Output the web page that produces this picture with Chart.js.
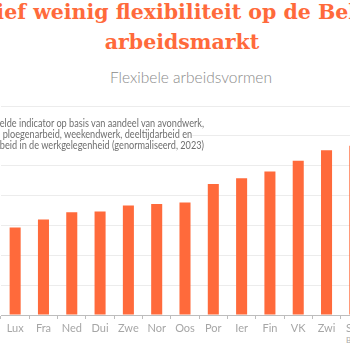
<!DOCTYPE html>
<html><head><meta charset="utf-8">
<script src="https://cdn.jsdelivr.net/npm/chart.js@4/dist/chart.umd.min.js"></script>
<style>
html,body{margin:0;padding:0;width:350px;height:350px;overflow:hidden;background:#fff;position:relative}
.t{position:absolute;white-space:nowrap}
#t1,#t2{font-family:"DejaVu Serif",serif;font-weight:bold;font-size:20.5px;color:#FF6A3B;transform:translateX(-50%)}
#sub{font-family:Lato,sans-serif;font-weight:300;font-size:15.5px;color:#8a8a8a;transform:translateX(-50%)}
#desc{position:absolute;left:0;top:118px;z-index:2}
.d{display:block;position:absolute;white-space:nowrap;font-family:Lato,sans-serif;font-size:10.5px;line-height:11px;color:#6f6f6f;background:#fff;transform-origin:0 0}
#src{font-family:Lato,sans-serif;font-size:8px;color:#aaa}
#wrap{position:absolute;left:-10px;top:0;width:400px;height:350px;z-index:1}
</style></head>
<body>
<div class="t" id="t1" style="left:183px;top:0px">Relatief weinig flexibiliteit op de Belgische</div>
<div class="t" id="t2" style="left:182px;top:30px">arbeidsmarkt</div>
<div class="t" id="sub" style="left:191px;top:68px">Flexibele arbeidsvormen</div>
<div id="desc">
<span class="d" id="d1">Samengestelde indicator op basis van aandeel van avondwerk,</span>
<span class="d" id="d2">nachtwerk, ploegenarbeid, weekendwerk, deeltijdarbeid en</span>
<span class="d" id="d3">tijdelijke arbeid in de werkgelegenheid (genormaliseerd, 2023)</span>
</div>
<div class="t" id="src" style="left:346px;top:335px">Bron</div>
<div id="wrap"><canvas id="c"></canvas></div>
<script>
const categories = ["Lux","Fra","Ned","Dui","Zwe","Nor","Oos","Por","Ier","Fin","VK","Zwi","Spa"];
const values = [29.3,32.0,34.4,34.7,36.7,37.2,37.7,43.9,45.8,48.1,51.7,55.2,56.7];
const yTicks = [0,10,20,30,40,50,60,70];

// fit the note text: "elde" starts at x≈0, first line ends at x≈205
(function(){
  const cv = document.createElement('canvas').getContext('2d');
  cv.font = '10.5px Lato';
  const full = cv.measureText(document.getElementById('d1').textContent).width;
  const pre = cv.measureText('Samengest').width;
  const s = 205 / (full - pre);
  const left = -pre * s;
  ['d1','d2','d3'].forEach((id,i) => {
    const el = document.getElementById(id);
    el.style.left = left + 'px';
    el.style.top = (i*11) + 'px';
    el.style.transform = 'scaleX(' + s + ')';
  });
})();

new Chart(document.getElementById('c'), {
  type: 'bar',
  data: { labels: categories, datasets: [{ data: values, backgroundColor: '#FF6A3B', borderWidth: 0, barPercentage: 0.39, categoryPercentage: 1 }] },
  options: {
    responsive: true, maintainAspectRatio: false, animation: false,
    layout: { padding: { left: 11, right: 21, top: 106, bottom: 11.8 } },
    plugins: { legend: { display: false }, tooltip: { enabled: false } },
    scales: {
      x: {
        grid: { display: true, drawOnChartArea: false, drawTicks: true, tickLength: 4, color: '#bdbdbd' },
        border: { color: '#bdbdbd' },
        ticks: { color: '#a6a6a6', font: { family: 'Lato', size: 11 }, padding: 3, maxRotation: 0, autoSkip: false }
      },
      y: {
        min: yTicks[0], max: yTicks[yTicks.length-1],
        afterBuildTicks: s => { s.ticks = yTicks.map(v => ({ value: v })); },
        grid: { color: '#ececec', drawTicks: false },
        border: { display: false },
        ticks: { display: false }
      }
    }
  }
});
</script>
</body></html>
